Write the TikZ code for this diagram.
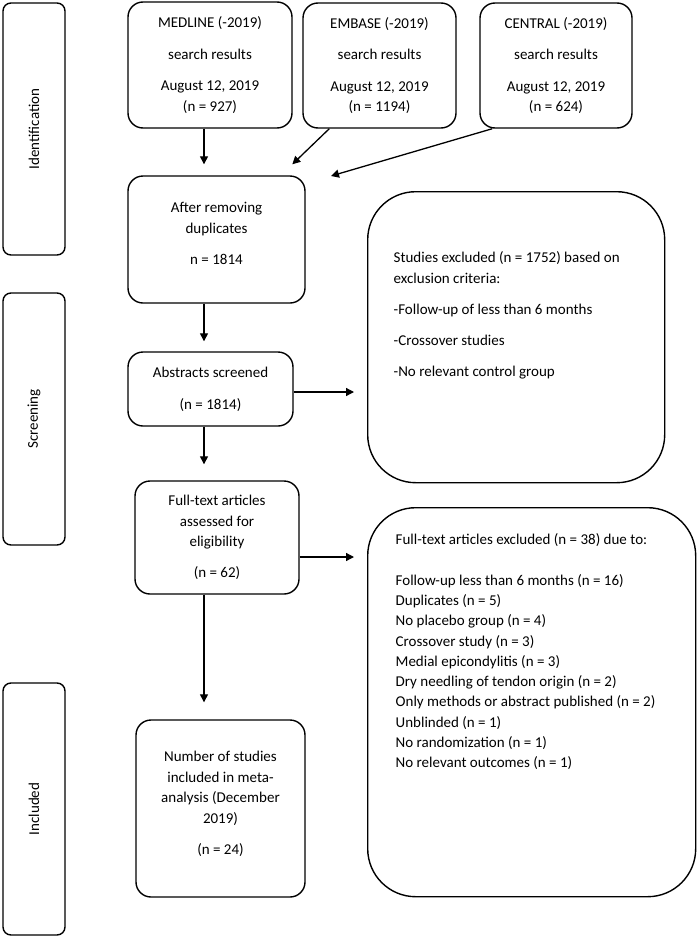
\documentclass[tikz,border=0pt]{standalone}
\usepackage{fontspec}
\setmainfont{Carlito}
\usetikzlibrary{arrows.meta,calc}

\tikzset{
  box/.style={draw, line width=1.4pt, rounded corners=15pt, align=center, inner sep=0pt},
  bigbox/.style={draw, line width=1.4pt, rounded corners=48pt, inner sep=0pt, anchor=north west},
  phase/.style={draw, line width=1.4pt, rounded corners=8pt, rotate=90, inner sep=0pt,
    minimum width=252pt, minimum height=62pt},
  arr/.style={-{Triangle[length=8pt,width=8pt]}, line width=1.3pt},
}

\begin{document}
\begin{tikzpicture}[x=1pt, y=-1pt, font=\fontsize{15}{20.5}\selectfont]
  \useasboundingbox (0,0) rectangle (697,937);

  %%%%% phases %%%%%
  \node[phase] (ident)  at (34,129) {Identification};
  \node[phase] (screen) at (34,419) {Screening};
  \node[phase] (incl)   at (34,809) {Included};

  %%%%% databases %%%%%
  \node[box, minimum width=164pt, minimum height=126pt] (medline) at (210,65)
    {MEDLINE (-2019)\\[11pt] search results\\[11pt] August 12, 2019\\ (n = 927)};
  \node[box, minimum width=153pt, minimum height=125pt] (embase) at (379.5,65.5)
    {EMBASE (-2019)\\[11pt] search results\\[11pt] August 12, 2019\\ (n = 1194)};
  \node[box, minimum width=152pt, minimum height=125pt] (central) at (556,65.5)
    {CENTRAL (-2019)\\[11pt] search results\\[11pt] August 12, 2019\\ (n = 624)};

  %%%%% main column %%%%%
  \node[box, minimum width=177pt, minimum height=127pt] (dup) at (216.5,239.5)
    {After removing\\ duplicates\\[11pt] n = 1814\\[-9pt]\mbox{}};
  \node[box, minimum width=165pt, minimum height=74pt] (abs) at (210.5,389)
    {Abstracts screened\\[11.5pt] (n = 1814)};
  \node[box, minimum width=164pt, minimum height=113pt] (ft) at (217,537.5)
    {Full-text articles\\ assessed for\\ eligibility\\[10.5pt] (n = 62)};
  \node[box, minimum width=169pt, minimum height=177pt] (num) at (220.5,808.5)
    {Number of studies\\ included in meta-\\ analysis (December\\ 2019)\\[10.5pt] (n = 24)\\[-9pt]\mbox{}};

  %%%%% exclusions %%%%%
  \node[bigbox] (exclA) at (367,191) {\parbox[c][291pt][t]{297pt}{\raggedright
    \leftskip=26pt \vspace*{60pt}
    Studies excluded (n = 1752) based on\\ exclusion criteria:\\[10.5pt]
    -Follow-up of less than 6 months\\[11pt]
    -Crossover studies\\[10.5pt]
    -No relevant control group}};
  \node[bigbox] (exclB) at (367,507) {\parbox[c][389pt][t]{328pt}{\raggedright
    \leftskip=28pt \baselineskip=20.33pt \vspace*{26pt}
    Full-text articles excluded (n = 38) due to:\\[20pt]
    Follow-up less than 6 months (n = 16)\\
    Duplicates (n = 5)\\
    No placebo group (n = 4)\\
    Crossover study (n = 3)\\
    Medial epicondylitis (n = 3)\\
    Dry needling of tendon origin (n = 2)\\
    Only methods or abstract published (n = 2)\\
    Unblinded (n = 1)\\
    No randomization (n = 1)\\
    No relevant outcomes (n = 1)}};

  %%%%% arrows %%%%%
  \coordinate (spine) at (204,0);
  \coordinate (cenend) at (331,176);
  \draw[arr, shorten >=11pt] (spine |- medline.south) -- (spine |- dup.north);
  \draw[arr] ([xshift=27pt]embase.south west) -- ($(dup.north west)+(165,-11)$);
  \draw[arr] ([xshift=13pt]central.south west) -- (cenend);
  \draw[arr, shorten >=10pt] (spine |- dup.south) -- (spine |- abs.north);
  \draw[arr, shorten >=16pt] (spine |- abs.south) -- (spine |- ft.north);
  \draw[arr, shorten >=17pt] (spine |- ft.south) -- (spine |- num.north);
  \draw[arr, shorten >=13pt] ($(abs.east)+(0,3)$) -- ($(abs.east -| exclA.west)+(0,3)$);
  \draw[arr, shorten >=13pt] ($(ft.east)+(0,19.5)$) -- ($(ft.east -| exclB.west)+(0,19.5)$);
\end{tikzpicture}
\end{document}
